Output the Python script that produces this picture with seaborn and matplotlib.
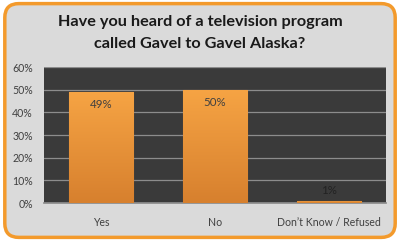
import matplotlib
matplotlib.use("Agg")
import matplotlib.pyplot as plt
import seaborn as sns
import numpy as np
import pandas as pd
from matplotlib.patches import FancyBboxPatch
from matplotlib.colors import LinearSegmentedColormap

categories = ["Yes", "No", "Don\u2019t Know / Refused"]
values = [49, 50, 1]
value_labels = ["49%", "50%", "1%"]
yticks = [0, 10, 20, 30, 40, 50, 60]
ytick_labels = ["0%", "10%", "20%", "30%", "40%", "50%", "60%"]
title_lines = ["Have you heard of a television program",
               "called Gavel to Gavel Alaska?"]

sns.set_theme(style="white")
plt.rcParams['font.family'] = ['Lato', 'DejaVu Sans']

fig = plt.figure(figsize=(4.0, 2.41), dpi=100)
fig.patch.set_facecolor("white")
frame = FancyBboxPatch((0.012, 0.015), 0.976, 0.97,
                       boxstyle="round,pad=0,rounding_size=0.035",
                       transform=fig.transFigure, facecolor="#dadada",
                       edgecolor="#f39a2c", linewidth=2.5, zorder=-10,
                       mutation_aspect=400/241)
fig.patches.append(frame)

ax = fig.add_axes([44/400, 38/241, 342/400, 136/241])
ax.set_zorder(1)
df = pd.DataFrame({"cat": categories, "val": values})
sns.barplot(data=df, x="cat", y="val", ax=ax, color="#ee9a3c",
            width=0.57, edgecolor="#c8792a", linewidth=0.8, zorder=3)
ax.set_facecolor("#3a3a3a")
ax.set_yticks(yticks)
ax.set_yticklabels(ytick_labels)
ax.yaxis.grid(True, color="#8c8c8c", linewidth=0.9, zorder=1)
ax.set_axisbelow(True)
for s in ["top", "right", "left"]:
    ax.spines[s].set_visible(False)
ax.spines["bottom"].set_color("#8c8c8c")
ax.set_xlabel("")
ax.set_ylabel("")
ax.tick_params(axis="both", length=0, labelsize=7.6, labelcolor="#404040")
ax.tick_params(axis="x", pad=10)
ax.tick_params(axis="y", pad=8)

# gradient fill on bars
grad = np.linspace(0, 1, 256).reshape(-1, 1)
cmap = LinearSegmentedColormap.from_list("og", ["#d7802e", "#f6a444"])
for p in list(ax.patches):
    x0, y0 = p.get_x(), p.get_y()
    w, h = p.get_width(), p.get_height()
    im = ax.imshow(grad, extent=[x0, x0 + w, y0, y0 + h], origin="lower",
                   cmap=cmap, aspect="auto", zorder=3.5)
    im.set_clip_path(p)
ax.set_xlim(-0.5, 2.5)
ax.set_ylim(0, 60)

for i, (v, lab) in enumerate(zip(values, value_labels)):
    if v > 10:
        ax.text(i, v - 5.5, lab, ha="center", va="center", fontsize=8.3,
                color="#404040", zorder=5)
    else:
        ax.text(i, v + 4.5, lab, ha="center", va="center", fontsize=8.3,
                color="#222222", zorder=5)

fig.text(0.5, 1 - 22/241, title_lines[0], ha="center", va="center",
         fontsize=11.7, fontweight="bold", color="#1a1a1a")
fig.text(0.5, 1 - 44/241, title_lines[1], ha="center", va="center",
         fontsize=11.7, fontweight="bold", color="#1a1a1a")

fig.savefig("out.png", dpi=100)
